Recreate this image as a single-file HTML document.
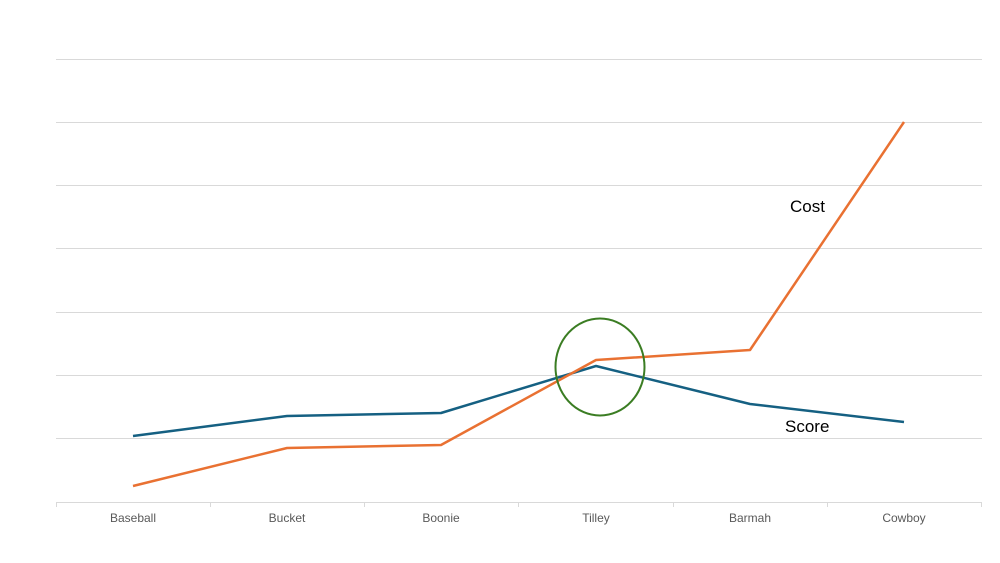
<!DOCTYPE html>
<html><head><meta charset="utf-8"><style>body{margin:0;background:#fff}svg{display:block}</style></head>
<body><svg width="1000" height="563" xmlns="http://www.w3.org/2000/svg" font-family="Liberation Sans, sans-serif">
<g stroke="#d9d9d9" stroke-width="1">
<line x1="56" x2="982" y1="59.5" y2="59.5"/>
<line x1="56" x2="982" y1="122.5" y2="122.5"/>
<line x1="56" x2="982" y1="185.5" y2="185.5"/>
<line x1="56" x2="982" y1="248.5" y2="248.5"/>
<line x1="56" x2="982" y1="312.5" y2="312.5"/>
<line x1="56" x2="982" y1="375.5" y2="375.5"/>
<line x1="56" x2="982" y1="438.5" y2="438.5"/>
<line x1="56" x2="982" y1="502.5" y2="502.5"/>
<line x1="56.5" x2="56.5" y1="502" y2="507"/>
<line x1="210.5" x2="210.5" y1="502" y2="507"/>
<line x1="364.5" x2="364.5" y1="502" y2="507"/>
<line x1="518.5" x2="518.5" y1="502" y2="507"/>
<line x1="673.5" x2="673.5" y1="502" y2="507"/>
<line x1="827.5" x2="827.5" y1="502" y2="507"/>
<line x1="981.5" x2="981.5" y1="502" y2="507"/>
</g>
<g font-size="12" fill="#595959" text-anchor="middle">
<text x="133" y="522">Baseball</text><text x="287" y="522">Bucket</text><text x="441" y="522">Boonie</text>
<text x="596" y="522">Tilley</text><text x="750" y="522">Barmah</text><text x="904" y="522">Cowboy</text>
</g>
<polyline fill="none" stroke="#156082" stroke-width="2.5" stroke-linejoin="round" points="133,436 287,416 441,413 596,366 750,404 904,422"/>
<polyline fill="none" stroke="#e97132" stroke-width="2.5" stroke-linejoin="round" points="133,486 287,448 441,445 596,360 750,350 904,122"/>
<ellipse cx="600" cy="367" rx="44.5" ry="48.5" fill="none" stroke="#3b7d23" stroke-width="2"/>
<text x="790" y="212" font-size="17" fill="#000">Cost</text>
<text x="785" y="432" font-size="17" fill="#000">Score</text>
</svg></body></html>
